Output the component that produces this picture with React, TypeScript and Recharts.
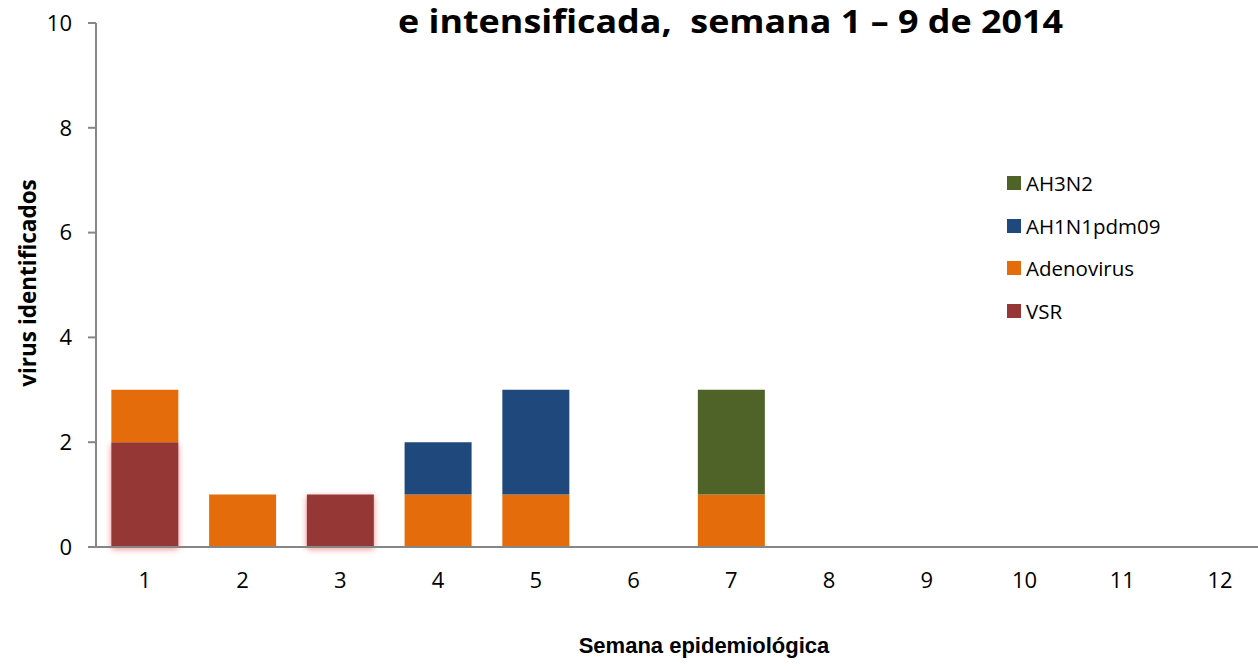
import { BarChart, Bar, XAxis, YAxis, Legend } from 'recharts';

const semanas = ['1', '2', '3', '4', '5', '6', '7', '8', '9', '10', '11', '12'];
const vsr = [2, 0, 1, 0, 0, 0, 0, 0, 0, 0, 0, 0];
const adenovirus = [1, 1, 0, 1, 1, 0, 1, 0, 0, 0, 0, 0];
const ah1n1pdm09 = [0, 0, 0, 1, 2, 0, 0, 0, 0, 0, 0, 0];
const ah3n2 = [0, 0, 0, 0, 0, 0, 2, 0, 0, 0, 0, 0];
const yTicks = [0, 2, 4, 6, 8, 10];

const series = [
  { key: 'VSR', values: vsr, color: '#953735' },
  { key: 'Adenovirus', values: adenovirus, color: '#E46C0A' },
  { key: 'AH1N1pdm09', values: ah1n1pdm09, color: '#1F497D' },
  { key: 'AH3N2', values: ah3n2, color: '#4F6228' },
];

const data = semanas.map((s, i) => {
  const row: Record<string, string | number> = { semana: s };
  series.forEach((sr) => {
    row[sr.key] = sr.values[i];
  });
  return row;
});

const axisColor = '#868686';
const tickFont = { fontFamily: 'Open Sans', fontSize: 22, fill: '#000' };

const LegendBox = () => (
  <div style={{ fontFamily: 'Open Sans', fontSize: 20.5, color: '#000' }}>
    {[...series].reverse().map((s) => (
      <div key={s.key} style={{ display: 'flex', alignItems: 'center', height: 42.5 }}>
        <span style={{ width: 14, height: 14, background: s.color, marginRight: 5, display: 'inline-block' }} />
        <span>{s.key}</span>
      </div>
    ))}
  </div>
);

export default function App() {
  return (
    <div style={{ position: 'absolute', left: 0, top: 0, width: 1258, height: 666, overflow: 'hidden', background: '#fff' }}>
      <svg width={1258} height={666} style={{ position: 'absolute', left: 0, top: 0, pointerEvents: 'none', zIndex: 2 }}>
        <defs>
          <filter id="vsrGlow" x="-20%" y="-20%" width="140%" height="140%">
            <feDropShadow dx="0" dy="2" stdDeviation="3" floodColor="#e00000" floodOpacity="0.45" />
          </filter>
        </defs>
        <text x={398} y={33} textLength={665} lengthAdjust="spacingAndGlyphs"
          style={{ fontFamily: 'Open Sans', fontWeight: 700, fontSize: 32, whiteSpace: 'pre' }}>
          e intensificada,  semana 1 – 9 de 2014
        </text>
        <text x={27} y={283} transform="rotate(-90 27 283)" textAnchor="middle" dominantBaseline="central"
          style={{ fontFamily: 'Open Sans', fontWeight: 700, fontSize: 22.5 }}>
          virus identificados
        </text>
        <text x={704} y={645} textAnchor="middle" dominantBaseline="central"
          style={{ fontFamily: 'Liberation Sans', fontWeight: 700, fontSize: 22 }}>
          Semana epidemiológica
        </text>
      </svg>
      <BarChart width={1270} height={666} data={data} barCategoryGap="15.7%"
        margin={{ top: 23, right: 1, left: 0, bottom: 0 }}>
        <XAxis dataKey="semana" height={119} tickLine={false} tickSize={0} tickMargin={25}
          stroke={axisColor} strokeWidth={2} tick={tickFont} />
        <YAxis domain={[0, 10]} ticks={yTicks} width={96} tickSize={8} tickMargin={16}
          stroke={axisColor} strokeWidth={2} tick={tickFont} />
        <Legend content={<LegendBox />} layout="vertical" align="center" verticalAlign="middle"
          wrapperStyle={{ position: 'absolute', left: 1007, top: 162, width: 'auto' }} />
        {series.map((s) => (
          <Bar key={s.key} dataKey={s.key} stackId="a" fill={s.color} isAnimationActive={false}
            style={s.key === 'VSR' ? { filter: 'url(#vsrGlow)' } : undefined} />
        ))}
      </BarChart>
    </div>
  );
}
